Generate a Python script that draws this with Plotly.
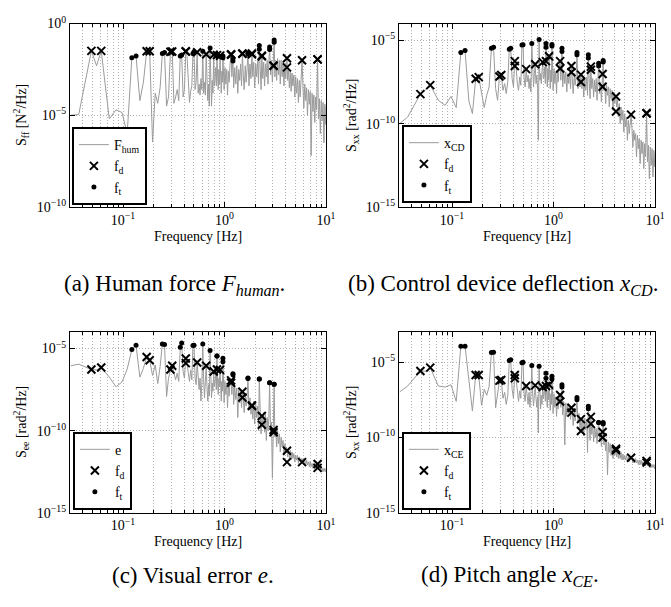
import numpy as np
import plotly.graph_objects as go

# ---------------- data (frequencies in Hz, PSD values as log10 exponents) ----------------
FREQ_LOW = [0.0305, 0.0366, 0.0488, 0.0549, 0.0610, 0.0732, 0.0854, 0.0977, 0.1099, 0.1221,
            0.1343, 0.1465, 0.1587, 0.1709, 0.1831, 0.1953, 0.2075, 0.2197, 0.2319, 0.2441,
            0.2563, 0.2686, 0.2808, 0.2930, 0.3052, 0.3174, 0.3296, 0.3418, 0.3540, 0.3662,
            0.3784, 0.3906, 0.4028, 0.4150, 0.4272, 0.4395, 0.4517, 0.4639, 0.4761, 0.4883,
            0.5005, 0.5127, 0.5249, 0.5371, 0.5493, 0.5615, 0.5737, 0.5859, 0.5981, 0.6104,
            0.6226, 0.6348, 0.6470, 0.6592, 0.6714, 0.6836, 0.6958, 0.7080, 0.7202, 0.7324,
            0.7446, 0.7568, 0.7690, 0.7813, 0.7935]
FREQ_HIGH = [0.806, 0.818, 0.830, 0.842, 0.855, 0.867, 0.879, 0.891, 0.903, 0.916,
             0.928, 0.940, 0.952, 0.964, 0.977, 0.99, 1.01, 1.03, 1.05, 1.07,
             1.09, 1.11, 1.13, 1.16, 1.18, 1.21, 1.23, 1.26, 1.29, 1.32,
             1.35, 1.38, 1.41, 1.44, 1.47, 1.50, 1.53, 1.56, 1.60, 1.63,
             1.67, 1.70, 1.74, 1.78, 1.82, 1.86, 1.90, 1.94, 1.98, 2.03,
             2.07, 2.12, 2.16, 2.20, 2.25, 2.29, 2.33, 2.38, 2.43, 2.48,
             2.53, 2.58, 2.63, 2.68, 2.73, 2.78, 2.84, 2.90, 2.96, 3.01,
             3.04, 3.08, 3.13, 3.19, 3.26, 3.33, 3.40, 3.47, 3.54, 3.61,
             3.69, 3.77, 3.85, 3.93, 4.01, 4.06, 4.12, 4.18, 4.26, 4.35,
             4.44, 4.53, 4.62, 4.72, 4.82, 4.92, 5.02, 5.12, 5.23, 5.34,
             5.45, 5.56, 5.68, 5.80, 5.92, 6.04, 6.17, 6.30, 6.43, 6.56,
             6.70, 6.84, 6.98, 7.13, 7.28, 7.43, 7.58, 7.74, 7.90, 8.06,
             8.25, 8.42, 8.60, 8.78, 8.96, 9.15, 9.34, 9.53, 9.73, 9.93,
             10.0]

# (a) human force PSD
PSD_A_LOW = [-5.0, -4.96, -1.49, -2.3, -1.49, -5.2, -4.7, -4.85, -6.0, -1.86,
             -1.77, -4.2, -3.2, -1.51, -1.51, -6.46, -3.8, -4.35, -3.5, -1.63,
             -1.58, -4.5, -4.0, -1.54, -1.52, -4.35, -4.0, -3.6, -4.2, -1.77,
             -1.72, -4.0, -3.6, -1.51, -1.8, -3.6, -4.3, -3.7, -3.4, -1.63,
             -1.54, -3.6, -3.2, -1.56, -3.8, -3.3, -3.9, -3.0, -3.6, -1.51,
             -3.8, -3.2, -3.9, -1.67, -3.5, -4.2, -3.3, -4.5, -1.33, -3.5,
             -4.5, -3.1, -3.8, -1.70, -3.4]
PSD_A_HIGH = [-3.0, -2.4, -3.4, -1.68, -2.9, -3.6, -2.5, -3.3, -1.75, -2.7,
              -3.8, -2.6, -3.2, -1.77, -2.8, -3.6, -2.4, -3.3, -2.5, -3.9,
              -2.6, -3.2, -2.3, -1.67, -2.9, -1.89, -3.5, -2.4, -3.3, -2.3,
              -3.8, -2.5, -3.1, -2.2, -3.4, -1.63, -2.8, -3.6, -2.3, -3.2,
              -2.4, -1.60, -3.4, -2.2, -3.0, -1.63, -2.9, -2.1, -3.5, -2.2,
              -2.9, -2.0, -3.3, -1.19, -2.6, -3.6, -1.75, -3.0, -2.1, -3.4,
              -2.2, -2.9, -2.0, -3.3, -2.1, -1.28, -2.8, -2.0, -3.2, -2.1,
              -2.30, -0.89, -2.9, -2.0, -3.1, -1.9, -2.8, -2.0, -3.3, -2.0,
              -2.9, -2.1, -3.4, -2.2, -3.0, -2.3, -1.89, -3.1, -2.5, -3.5,
              -2.6, -3.7, -2.7, -3.4, -2.8, -4.0, -2.9, -3.8, -3.0, -4.3,
              -3.1, -4.0, -3.2, -2.0, -3.4, -4.6, -3.3, -4.2, -3.5, -5.0,
              -3.6, -4.4, -3.7, -7.2, -3.8, -4.8, -3.9, -5.4, -4.0, -4.7,
              -1.95, -5.2, -4.1, -6.0, -4.2, -5.3, -4.3, -6.5, -4.4, -5.5,
              -4.5]

# (b) control device deflection PSD
PSD_B_LOW = [-10.0, -9.6, -8.23, -7.98, -7.69, -8.6, -8.9, -8.37, -9.04, -5.73,
             -5.62, -8.65, -9.4, -7.31, -7.21, -8.27, -9.04, -8.3, -7.8, -5.48,
             -5.42, -7.9, -8.6, -7.17, -7.08, -8.0, -7.6, -8.2, -7.5, -5.54,
             -5.48, -7.3, -7.8, -6.25, -6.54, -7.6, -8.0, -7.2, -7.7, -5.29,
             -5.27, -7.3, -7.8, -6.73, -7.5, -7.1, -7.9, -7.3, -8.1, -5.19,
             -7.2, -7.8, -7.0, -6.44, -7.6, -7.1, -7.9, -11.0, -4.96, -7.4,
             -7.0, -7.6, -6.9, -6.31, -7.3]
PSD_B_HIGH = [-7.2, -6.6, -7.6, -5.19, -7.0, -7.8, -6.7, -7.4, -5.96, -7.1,
              -7.9, -6.8, -7.5, -5.25, -7.0, -8.0, -6.7, -7.6, -6.9, -8.2,
              -6.8, -7.5, -6.7, -6.25, -7.4, -5.48, -7.8, -6.8, -7.6, -6.9,
              -8.1, -7.0, -7.6, -6.9, -7.9, -6.54, -7.3, -8.2, -7.0, -7.7,
              -7.1, -5.73, -7.9, -7.1, -7.8, -7.06, -7.9, -7.2, -8.4, -7.3,
              -8.0, -7.2, -8.3, -5.87, -7.6, -8.5, -6.58, -7.9, -7.3, -8.4,
              -7.4, -8.1, -7.3, -8.6, -7.5, -6.38, -8.2, -7.5, -8.7, -7.6,
              -7.02, -6.21, -8.0, -7.6, -8.8, -7.7, -8.3, -7.8, -9.0, -7.9,
              -8.5, -8.0, -9.2, -8.1, -8.8, -8.3, -8.37, -9.0, -8.6, -9.6,
              -8.8, -10.0, -9.0, -9.8, -9.2, -10.5, -9.4, -10.2, -9.6, -11.0,
              -9.8, -10.6, -10.0, -9.46, -10.3, -11.4, -10.4, -11.0, -10.6, -12.0,
              -10.7, -11.5, -10.9, -12.4, -11.0, -11.8, -11.1, -12.7, -11.2, -12.0,
              -9.38, -12.3, -11.3, -13.3, -11.4, -12.5, -11.5, -13.2, -11.6, -12.6,
              -11.8]

# (c) visual error PSD
PSD_C_LOW = [-6.05, -5.95, -6.28, -6.3, -6.15, -6.74, -7.33, -7.04, -6.25, -5.06,
             -4.80, -6.74, -6.2, -5.51, -5.71, -6.64, -6.0, -7.13, -6.1, -4.72,
             -4.76, -7.92, -6.8, -6.28, -6.05, -6.6, -6.9, -6.5, -7.0, -4.92,
             -4.66, -6.4, -6.8, -5.61, -5.89, -6.5, -7.0, -6.3, -6.9, -4.82,
             -4.80, -6.8, -7.2, -5.85, -6.6, -7.5, -6.8, -8.2, -7.1, -4.72,
             -6.9, -8.0, -7.0, -6.05, -7.3, -8.2, -7.2, -7.9, -5.12, -7.2,
             -8.0, -7.1, -7.6, -6.40, -7.3]
PSD_C_HIGH = [-7.0, -6.6, -7.5, -5.45, -7.1, -7.8, -6.8, -7.3, -6.30, -7.2,
              -8.2, -7.0, -7.6, -5.59, -7.2, -8.3, -7.0, -7.8, -7.1, -8.6,
              -7.2, -7.9, -7.1, -6.94, -7.8, -6.54, -8.4, -7.3, -8.1, -7.4,
              -9.2, -7.5, -8.3, -7.6, -8.6, -7.63, -8.0, -8.9, -7.8, -8.5,
              -7.9, -6.80, -8.7, -8.0, -9.0, -8.46, -9.3, -8.2, -9.6, -8.4,
              -9.2, -8.5, -10.0, -6.86, -9.0, -10.2, -9.11, -9.6, -8.9, -10.1,
              -9.0, -10.6, -9.2, -10.0, -9.3, -7.09, -10.2, -9.5, -12.9, -9.7,
              -9.96, -7.17, -10.4, -9.9, -11.0, -10.0, -10.8, -10.2, -11.3, -10.4,
              -11.0, -10.6, -11.5, -10.8, -11.3, -11.0, -11.23, -11.6, -11.1, -11.7,
              -11.2, -11.8, -11.3, -11.7, -11.4, -11.9, -11.5, -11.8, -11.5, -12.0,
              -11.6, -11.9, -11.7, -11.92, -11.7, -12.0, -11.8, -12.1, -11.8, -12.1,
              -11.9, -12.2, -11.9, -12.2, -12.0, -12.3, -12.0, -12.3, -12.1, -12.3,
              -12.04, -12.4, -12.2, -12.4, -12.2, -12.5, -12.3, -12.5, -12.3, -12.5,
              -12.4]

# (d) pitch angle PSD
PSD_D_LOW = [-6.97, -6.58, -5.58, -5.6, -5.36, -6.58, -6.65, -6.5, -7.6, -3.93,
             -3.93, -6.32, -8.25, -5.85, -5.85, -7.86, -6.8, -7.2, -6.6, -4.36,
             -4.34, -8.03, -6.9, -6.22, -6.18, -7.4, -7.0, -7.8, -7.2, -4.89,
             -4.83, -6.8, -7.4, -5.85, -6.07, -7.1, -7.6, -6.9, -7.4, -5.04,
             -5.0, -7.1, -7.6, -6.58, -7.2, -7.8, -7.0, -8.0, -7.2, -5.21,
             -7.1, -7.9, -7.2, -6.54, -7.4, -8.0, -7.3, -9.7, -5.26, -7.5,
             -8.1, -7.2, -7.8, -6.65, -7.4]
PSD_D_HIGH = [-7.1, -6.7, -7.6, -5.73, -7.2, -8.0, -6.9, -7.5, -6.50, -7.3,
              -8.2, -7.1, -7.8, -5.94, -7.4, -8.4, -7.1, -8.0, -7.3, -8.6,
              -7.4, -8.1, -7.4, -7.18, -8.0, -6.50, -8.5, -7.6, -10.5, -7.7,
              -8.6, -7.8, -8.4, -7.9, -8.8, -8.03, -8.3, -9.2, -8.1, -8.9,
              -8.3, -7.35, -9.0, -8.4, -9.4, -8.78, -9.6, -8.6, -9.9, -8.7,
              -9.5, -8.8, -11.0, -7.93, -9.3, -10.2, -8.63, -9.8, -9.1, -10.3,
              -9.3, -10.0, -9.4, -10.4, -9.5, -9.0, -10.3, -9.7, -10.6, -9.8,
              -9.64, -9.0, -10.5, -10.0, -10.9, -10.1, -12.5, -10.3, -11.0, -10.4,
              -11.2, -10.5, -11.4, -10.6, -11.2, -10.8, -10.75, -11.3, -10.9, -11.4,
              -11.0, -11.4, -11.0, -11.5, -11.1, -11.5, -11.2, -11.5, -11.2, -11.6,
              -11.3, -11.6, -11.3, -11.35, -11.4, -11.7, -11.4, -11.7, -11.4, -11.7,
              -11.5, -11.8, -11.5, -11.8, -11.5, -11.8, -11.6, -11.9, -11.6, -11.9,
              -11.56, -11.9, -11.7, -12.0, -11.7, -12.0, -11.8, -12.0, -11.8, -12.1,
              -11.9]

# disturbance (f_d) and target (f_t) forcing frequencies
FD_FREQ = [0.0488, 0.0610, 0.1709, 0.1831, 0.2930, 0.3052, 0.4150, 0.4150, 0.5371, 0.6592,
           0.7813, 0.842, 0.903, 1.16, 1.16, 1.50, 1.50, 1.86, 1.86, 2.33,
           2.33, 3.04, 3.04, 4.12, 4.12, 5.80, 8.25, 8.25]
FT_FREQ = [0.1221, 0.1343, 0.2441, 0.2563, 0.3662, 0.3784, 0.4883, 0.5005, 0.6104, 0.7202,
           0.842, 0.842, 0.964, 0.964, 1.21, 1.21, 1.70, 1.70, 2.20, 2.20,
           2.78, 2.78, 3.08, 3.08]

FD_A = [-1.49, -1.49, -1.51, -1.51, -1.54, -1.52, -1.51, -1.53, -1.56, -1.67,
        -1.70, -1.72, -1.75, -1.67, -1.70, -1.63, -1.65, -1.63, -1.68, -1.75,
        -1.78, -2.30, -2.30, -1.89, -2.39, -2.0, -1.95, -1.95]
FT_A = [-1.86, -1.77, -1.63, -1.58, -1.77, -1.72, -1.63, -1.54, -1.51, -1.33,
        -1.68, -1.72, -1.86, -1.77, -2.04, -1.89, -1.60, -1.65, -1.19, -1.40,
        -1.28, -1.42, -0.89, -1.02]
FD_B = [-8.23, -7.69, -7.31, -7.21, -7.17, -7.08, -6.54, -6.25, -6.73, -6.44,
        -6.31, -6.25, -5.96, -6.25, -6.69, -6.54, -6.92, -7.06, -7.50, -6.58,
        -6.77, -7.02, -7.79, -8.37, -9.27, -9.46, -9.38, -9.38]
FT_B = [-5.73, -5.62, -5.48, -5.42, -5.54, -5.48, -5.29, -5.27, -5.19, -4.96,
        -5.19, -5.42, -5.25, -5.35, -5.48, -5.67, -5.73, -5.87, -5.87, -6.06,
        -6.38, -6.54, -6.21, -6.31]
FD_C = [-6.28, -6.15, -5.51, -5.71, -6.28, -6.05, -5.61, -5.89, -5.85, -6.05,
        -6.40, -6.28, -6.30, -6.94, -7.08, -7.63, -7.98, -8.46, -8.50, -9.11,
        -9.64, -9.96, -10.1, -11.23, -11.92, -11.92, -12.04, -12.27]
FT_C = [-5.06, -4.80, -4.72, -4.76, -4.92, -4.66, -4.82, -4.80, -4.72, -5.12,
        -5.45, -5.45, -5.59, -5.81, -6.54, -6.60, -6.80, -6.82, -6.86, -6.86,
        -7.09, -7.09, -7.17, -7.17]
FD_D = [-5.58, -5.36, -5.85, -5.85, -6.22, -6.18, -5.85, -6.07, -6.58, -6.54,
        -6.65, -6.58, -6.50, -7.18, -7.61, -8.03, -8.35, -8.78, -9.57, -8.63,
        -9.10, -9.64, -10.0, -10.75, -10.85, -11.35, -11.56, -11.67]
FT_D = [-3.93, -3.93, -4.36, -4.34, -4.89, -4.83, -5.04, -5.0, -5.21, -5.26,
        -5.73, -6.07, -5.94, -6.11, -6.50, -6.65, -7.35, -7.50, -7.93, -8.10,
        -9.0, -9.0, -9.0, -9.10]

SIGNAL_NAMES = ["F<sub>hum</sub>", "x<sub>CD</sub>", "e", "x<sub>CE</sub>"]
Y_TITLES = ["S<sub>ff</sub> [N<sup>2</sup>/Hz]", "S<sub>xx</sub> [rad<sup>2</sup>/Hz]",
            "S<sub>ee</sub> [rad<sup>2</sup>/Hz]", "S<sub>xx</sub> [rad<sup>2</sup>/Hz]"]
Y_EXP_RANGES = [(-10, 0), (-15, -4), (-15, -4), (-15, -3)]
Y_TICK_EXPS = [[-10, -5, 0], [-15, -10, -5], [-15, -10, -5], [-15, -10, -5]]
X_TICK_EXPS = [-1, 0, 1]
CAPTIONS = ["(a) Human force <i>F<sub>human</sub></i>.",
            "(b) Control device deflection <i>x<sub>CD</sub></i>.",
            "(c) Visual error <i>e</i>.",
            "(d) Pitch angle <i>x<sub>CE</sub></i>."]

# ---------------- figure ----------------
W, H = 671, 607
FONT = '"Liberation Serif", "Times New Roman", Times, serif'
freq = np.array(FREQ_LOW + FREQ_HIGH)
psd_all = [PSD_A_LOW + PSD_A_HIGH, PSD_B_LOW + PSD_B_HIGH,
           PSD_C_LOW + PSD_C_HIGH, PSD_D_LOW + PSD_D_HIGH]
fd_all = [FD_A, FD_B, FD_C, FD_D]
ft_all = [FT_A, FT_B, FT_C, FT_D]
for p in psd_all:
    if len(p) != len(freq):
        raise ValueError(f"length mismatch {len(p)} vs {len(freq)}")

# pixel boxes of the four plot areas (left, right, top, bottom)
boxes = [(71, 331, 14, 203), (405, 665, 14, 203), (71, 331, 332, 518), (405, 665, 332, 518)]
legend_pos = [(73, 201), (408, 199), (74, 515), (408, 515)]
ytitle_x = [22, 357, 22, 357]
caption_pos = [(177, 283), (511, 283), (196, 583), (518, 583)]

def sup(e):
    s = str(e).replace("-", "\u2212")
    return f"10<sup>{s}</sup>"

fig = go.Figure()
GRID = "#b2b2b2"
layout_axes = {}
annotations = []
for i in range(4):
    sfx = "" if i == 0 else str(i + 1)
    xa, ya = "x" + sfx, "y" + sfx
    leg = "legend" + sfx
    fig.add_trace(go.Scatter(x=freq, y=np.power(10.0, psd_all[i]), mode="lines",
                             line=dict(color="#9b9b9b", width=1), name=SIGNAL_NAMES[i],
                             xaxis=xa, yaxis=ya, legend=leg))
    fig.add_trace(go.Scatter(x=FD_FREQ, y=np.power(10.0, fd_all[i]), mode="markers",
                             marker=dict(symbol="x-thin", size=8, color="black",
                                         line=dict(color="black", width=2)),
                             name="f<sub>d</sub>", xaxis=xa, yaxis=ya, legend=leg))
    fig.add_trace(go.Scatter(x=FT_FREQ, y=np.power(10.0, ft_all[i]), mode="markers",
                             marker=dict(symbol="circle", size=5, color="black"),
                             name="f<sub>t</sub>", xaxis=xa, yaxis=ya, legend=leg))
    l, r, t, b = boxes[i]
    common = dict(showline=True, linecolor="black", linewidth=1, mirror="allticks",
                  ticks="inside", ticklen=5, tickcolor="black", showgrid=True,
                  gridcolor=GRID, griddash="1px,2px", gridwidth=1, zeroline=False,
                  tickfont=dict(family=FONT, size=14, color="black"))
    layout_axes["xaxis" + sfx] = dict(
        type="log", domain=[l / W, r / W], anchor=ya, range=[np.log10(0.03), 1],
        tickmode="array", tickvals=[10.0 ** e for e in X_TICK_EXPS],
        ticktext=[sup(e) for e in X_TICK_EXPS],
        minor=dict(ticks="inside", ticklen=3, tickcolor="black", showgrid=True,
                   gridcolor=GRID, griddash="1px,2px", gridwidth=1, dtick="D1"),
        **common)
    ylo, yhi = Y_EXP_RANGES[i]
    layout_axes["yaxis" + sfx] = dict(
        type="log", domain=[1 - b / H, 1 - t / H], anchor=xa, range=[ylo, yhi],
        tickmode="array", tickvals=[10.0 ** e for e in Y_TICK_EXPS[i]],
        ticktext=[sup(e) for e in Y_TICK_EXPS[i]], **common)
    lx, ly = legend_pos[i]
    layout_axes[leg] = dict(x=lx / W, y=1 - ly / H, xanchor="left", yanchor="bottom",
                            bgcolor="white", bordercolor="black", borderwidth=2,
                            font=dict(family=FONT, size=14, color="black"),
                            tracegroupgap=0, itemwidth=30)
    annotations.append(dict(text="Frequency [Hz]", x=(l + r) / 2 / W, y=1 - (b + 30) / H,
                            xref="paper", yref="paper", xanchor="center", yanchor="middle",
                            showarrow=False, font=dict(family=FONT, size=14, color="black")))
    annotations.append(dict(text=Y_TITLES[i], x=ytitle_x[i] / W, y=1 - (t + b) / 2 / H,
                            xref="paper", yref="paper", xanchor="center", yanchor="middle",
                            showarrow=False, textangle=-90,
                            font=dict(family=FONT, size=14, color="black")))
    cx, cy = caption_pos[i]
    annotations.append(dict(text=CAPTIONS[i], x=cx / W, y=1 - cy / H,
                            xref="paper", yref="paper", xanchor="center", yanchor="middle",
                            showarrow=False, font=dict(family=FONT, size=23, color="black")))

fig.update_layout(width=W, height=H, margin=dict(l=0, r=0, t=0, b=0),
                  paper_bgcolor="white", plot_bgcolor="white",
                  font=dict(family=FONT, size=14, color="black"),
                  showlegend=True, annotations=annotations, **layout_axes)
fig.write_html("out.html")
